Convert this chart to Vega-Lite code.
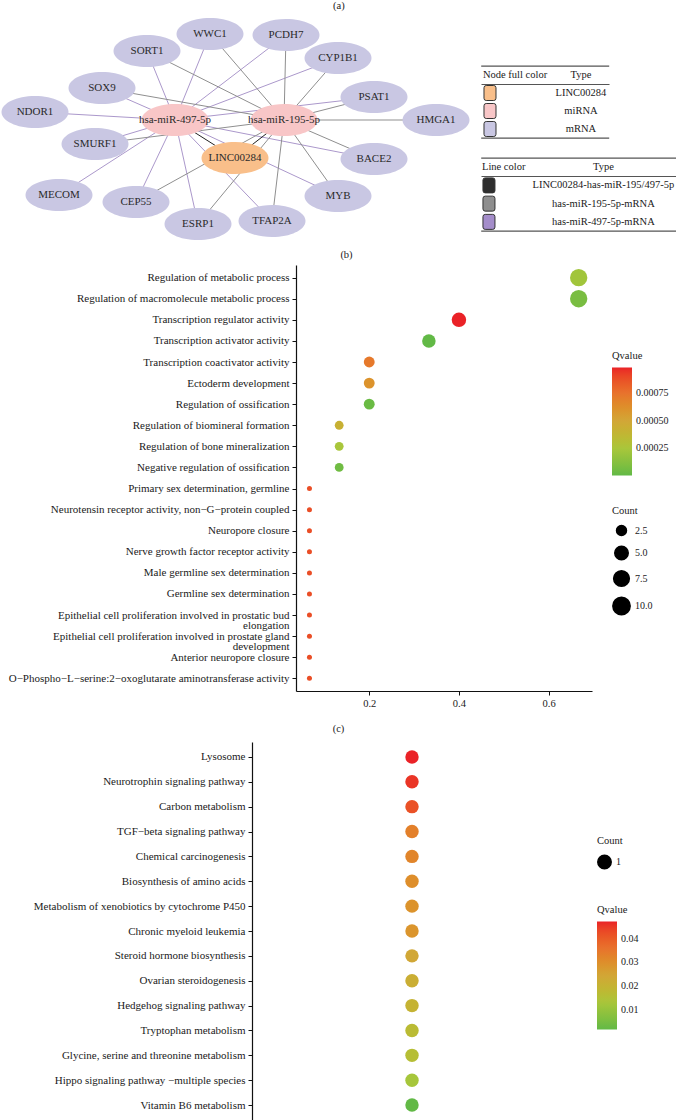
{
  "$schema": "https://vega.github.io/schema/vega-lite/v6.json",
  "background": "white",
  "padding": 0,
  "spacing": 8,
  "config": {
    "font": "Liberation Serif",
    "view": {"stroke": null},
    "title": {"font": "Liberation Serif", "fontSize": 10.5, "fontWeight": "normal", "color": "#222", "anchor": "middle", "frame": "bounds"},
    "axis": {"labelFont": "Liberation Serif", "labelColor": "#1a1a1a", "domainColor": "#111", "tickColor": "#111", "grid": false, "titleFont": "Liberation Serif"},
    "legend": {"labelFont": "Liberation Serif", "titleFont": "Liberation Serif", "titleFontWeight": "normal", "titleColor": "#1a1a1a", "labelColor": "#1a1a1a", "padding": 0},
    "text": {"font": "Liberation Serif"}
  },
  "resolve": {"scale": {"color": "independent", "size": "independent", "fill": "independent", "stroke": "independent"}, "legend": {"color": "independent", "size": "independent"}},
  "datasets": {
    "nodes": [
      {"id": "WWC1", "type": "mRNA", "x": 208, "y": 33},
      {"id": "PCDH7", "type": "mRNA", "x": 284, "y": 34},
      {"id": "SORT1", "type": "mRNA", "x": 145, "y": 50},
      {"id": "CYP1B1", "type": "mRNA", "x": 336, "y": 57},
      {"id": "SOX9", "type": "mRNA", "x": 100, "y": 87},
      {"id": "PSAT1", "type": "mRNA", "x": 372, "y": 96},
      {"id": "NDOR1", "type": "mRNA", "x": 33, "y": 111},
      {"id": "HMGA1", "type": "mRNA", "x": 434, "y": 119},
      {"id": "hsa-miR-497-5p", "type": "miRNA", "x": 173, "y": 119},
      {"id": "hsa-miR-195-5p", "type": "miRNA", "x": 282, "y": 119},
      {"id": "SMURF1", "type": "mRNA", "x": 93, "y": 143},
      {"id": "LINC00284", "type": "LINC00284", "x": 233, "y": 157},
      {"id": "BACE2", "type": "mRNA", "x": 372, "y": 158},
      {"id": "MECOM", "type": "mRNA", "x": 57, "y": 194},
      {"id": "CEP55", "type": "mRNA", "x": 134, "y": 201},
      {"id": "MYB", "type": "mRNA", "x": 336, "y": 195},
      {"id": "ESRP1", "type": "mRNA", "x": 196, "y": 223},
      {"id": "TFAP2A", "type": "mRNA", "x": 270, "y": 220}
    ],
    "edges": [
      {"source": "hsa-miR-497-5p", "target": "WWC1", "type": "has-miR-497-5p-mRNA"},
      {"source": "hsa-miR-497-5p", "target": "PCDH7", "type": "has-miR-497-5p-mRNA"},
      {"source": "hsa-miR-497-5p", "target": "SORT1", "type": "has-miR-497-5p-mRNA"},
      {"source": "hsa-miR-497-5p", "target": "CYP1B1", "type": "has-miR-497-5p-mRNA"},
      {"source": "hsa-miR-497-5p", "target": "SOX9", "type": "has-miR-497-5p-mRNA"},
      {"source": "hsa-miR-497-5p", "target": "PSAT1", "type": "has-miR-497-5p-mRNA"},
      {"source": "hsa-miR-497-5p", "target": "NDOR1", "type": "has-miR-497-5p-mRNA"},
      {"source": "hsa-miR-497-5p", "target": "SMURF1", "type": "has-miR-497-5p-mRNA"},
      {"source": "hsa-miR-497-5p", "target": "BACE2", "type": "has-miR-497-5p-mRNA"},
      {"source": "hsa-miR-497-5p", "target": "MECOM", "type": "has-miR-497-5p-mRNA"},
      {"source": "hsa-miR-497-5p", "target": "CEP55", "type": "has-miR-497-5p-mRNA"},
      {"source": "hsa-miR-497-5p", "target": "ESRP1", "type": "has-miR-497-5p-mRNA"},
      {"source": "hsa-miR-497-5p", "target": "TFAP2A", "type": "has-miR-497-5p-mRNA"},
      {"source": "hsa-miR-497-5p", "target": "MYB", "type": "has-miR-497-5p-mRNA"},
      {"source": "hsa-miR-195-5p", "target": "WWC1", "type": "has-miR-195-5p-mRNA"},
      {"source": "hsa-miR-195-5p", "target": "PCDH7", "type": "has-miR-195-5p-mRNA"},
      {"source": "hsa-miR-195-5p", "target": "SORT1", "type": "has-miR-195-5p-mRNA"},
      {"source": "hsa-miR-195-5p", "target": "CYP1B1", "type": "has-miR-195-5p-mRNA"},
      {"source": "hsa-miR-195-5p", "target": "SOX9", "type": "has-miR-195-5p-mRNA"},
      {"source": "hsa-miR-195-5p", "target": "PSAT1", "type": "has-miR-195-5p-mRNA"},
      {"source": "hsa-miR-195-5p", "target": "HMGA1", "type": "has-miR-195-5p-mRNA"},
      {"source": "hsa-miR-195-5p", "target": "SMURF1", "type": "has-miR-195-5p-mRNA"},
      {"source": "hsa-miR-195-5p", "target": "BACE2", "type": "has-miR-195-5p-mRNA"},
      {"source": "hsa-miR-195-5p", "target": "CEP55", "type": "has-miR-195-5p-mRNA"},
      {"source": "hsa-miR-195-5p", "target": "ESRP1", "type": "has-miR-195-5p-mRNA"},
      {"source": "hsa-miR-195-5p", "target": "TFAP2A", "type": "has-miR-195-5p-mRNA"},
      {"source": "hsa-miR-195-5p", "target": "MYB", "type": "has-miR-195-5p-mRNA"},
      {"source": "LINC00284", "target": "hsa-miR-497-5p", "type": "LINC00284-has-miR-195/497-5p"},
      {"source": "LINC00284", "target": "hsa-miR-195-5p", "type": "LINC00284-has-miR-195/497-5p"}
    ],
    "tbl1": [
      {"row": "hdr", "col": "a", "kind": "hdrL", "text": "Node full color"},
      {"row": "hdr", "col": "b", "kind": "txt", "text": "Type"},
      {"row": "LINC00284", "col": "a", "kind": "sym", "text": ""},
      {"row": "miRNA", "col": "a", "kind": "sym", "text": ""},
      {"row": "mRNA", "col": "a", "kind": "sym", "text": ""},
      {"row": "LINC00284", "col": "b", "kind": "txt", "text": "LINC00284"},
      {"row": "miRNA", "col": "b", "kind": "txt", "text": "miRNA"},
      {"row": "mRNA", "col": "b", "kind": "txt", "text": "mRNA"}
    ],
    "tbl2": [
      {"row": "hdr", "col": "a", "kind": "hdrL", "text": "Line color"},
      {"row": "hdr", "col": "b", "kind": "txt", "text": "Type"},
      {"row": "LINC00284-has-miR-195/497-5p", "col": "a", "kind": "sym", "text": ""},
      {"row": "has-miR-195-5p-mRNA", "col": "a", "kind": "sym", "text": ""},
      {"row": "has-miR-497-5p-mRNA", "col": "a", "kind": "sym", "text": ""},
      {"row": "LINC00284-has-miR-195/497-5p", "col": "b", "kind": "txt", "text": "LINC00284-has-miR-195/497-5p"},
      {"row": "has-miR-195-5p-mRNA", "col": "b", "kind": "txt", "text": "has-miR-195-5p-mRNA"},
      {"row": "has-miR-497-5p-mRNA", "col": "b", "kind": "txt", "text": "has-miR-497-5p-mRNA"}
    ],
    "go": [
      {"term": "Regulation of metabolic process", "ratio": 0.667, "count": 10, "q": 0.00022},
      {"term": "Regulation of macromolecule metabolic process", "ratio": 0.667, "count": 10, "q": 0.00008},
      {"term": "Transcription regulator activity", "ratio": 0.4, "count": 6, "q": 0.00098},
      {"term": "Transcription activator activity", "ratio": 0.333, "count": 5, "q": 0.000005},
      {"term": "Transcription coactivator activity", "ratio": 0.2, "count": 3, "q": 0.00072},
      {"term": "Ectoderm development", "ratio": 0.2, "count": 3, "q": 0.0006},
      {"term": "Regulation of ossification", "ratio": 0.2, "count": 3, "q": 0.00003},
      {"term": "Regulation of biomineral formation", "ratio": 0.133, "count": 2, "q": 0.00042},
      {"term": "Regulation of bone mineralization", "ratio": 0.133, "count": 2, "q": 0.00025},
      {"term": "Negative regulation of ossification", "ratio": 0.133, "count": 2, "q": 0.00005},
      {"term": "Primary sex determination, germline", "ratio": 0.0667, "count": 1, "q": 0.00088},
      {"term": "Neurotensin receptor activity, non−G−protein coupled", "ratio": 0.0667, "count": 1, "q": 0.00088},
      {"term": "Neuropore closure", "ratio": 0.0667, "count": 1, "q": 0.00088},
      {"term": "Nerve growth factor receptor activity", "ratio": 0.0667, "count": 1, "q": 0.00088},
      {"term": "Male germline sex determination", "ratio": 0.0667, "count": 1, "q": 0.00088},
      {"term": "Germline sex determination", "ratio": 0.0667, "count": 1, "q": 0.00088},
      {"term": "Epithelial cell proliferation involved in prostatic bud elongation", "ratio": 0.0667, "count": 1, "q": 0.00088},
      {"term": "Epithelial cell proliferation involved in prostate gland development", "ratio": 0.0667, "count": 1, "q": 0.00088},
      {"term": "Anterior neuropore closure", "ratio": 0.0667, "count": 1, "q": 0.00088},
      {"term": "O−Phospho−L−serine:2−oxoglutarate aminotransferase activity", "ratio": 0.0667, "count": 1, "q": 0.00088}
    ],
    "kegg": [
      {"term": "Lysosome", "ratio": 0.125, "count": 1, "q": 0.0472},
      {"term": "Neurotrophin signaling pathway", "ratio": 0.125, "count": 1, "q": 0.0455},
      {"term": "Carbon metabolism", "ratio": 0.125, "count": 1, "q": 0.0418},
      {"term": "TGF−beta signaling pathway", "ratio": 0.125, "count": 1, "q": 0.033},
      {"term": "Chemical carcinogenesis", "ratio": 0.125, "count": 1, "q": 0.032},
      {"term": "Biosynthesis of amino acids", "ratio": 0.125, "count": 1, "q": 0.03},
      {"term": "Metabolism of xenobiotics by cytochrome P450", "ratio": 0.125, "count": 1, "q": 0.029},
      {"term": "Chronic myeloid leukemia", "ratio": 0.125, "count": 1, "q": 0.0285},
      {"term": "Steroid hormone biosynthesis", "ratio": 0.125, "count": 1, "q": 0.024},
      {"term": "Ovarian steroidogenesis", "ratio": 0.125, "count": 1, "q": 0.0215},
      {"term": "Hedgehog signaling pathway", "ratio": 0.125, "count": 1, "q": 0.02},
      {"term": "Tryptophan metabolism", "ratio": 0.125, "count": 1, "q": 0.017},
      {"term": "Glycine, serine and threonine metabolism", "ratio": 0.125, "count": 1, "q": 0.016},
      {"term": "Hippo signaling pathway −multiple species", "ratio": 0.125, "count": 1, "q": 0.0125},
      {"term": "Vitamin B6 metabolism", "ratio": 0.125, "count": 1, "q": 0.0016}
    ]
  },
  "vconcat": [
    {
      "title": {"text": "(a)", "offset": 2},
      "spacing": 0,
      "resolve": {"scale": {"fill": "independent", "stroke": "independent"}},
      "hconcat": [
        {"width": 1, "height": 1, "data": {"values": []}, "mark": "point", "encoding": {}},
        {
          "width": 478,
          "height": 228,
          "layer": [
            {
              "data": {"name": "edges"},
              "transform": [
                {"lookup": "source", "from": {"data": {"name": "nodes"}, "key": "id", "fields": ["x", "y"]}, "as": ["sx", "sy"]},
                {"lookup": "target", "from": {"data": {"name": "nodes"}, "key": "id", "fields": ["x", "y"]}, "as": ["tx", "ty"]}
              ],
              "mark": {"type": "rule", "strokeWidth": 1},
              "encoding": {
                "x": {"field": "sx", "type": "quantitative", "scale": {"domain": [0, 478], "nice": false, "zero": false}, "axis": null},
                "y": {"field": "sy", "type": "quantitative", "scale": {"domain": [12, 240], "nice": false, "zero": false, "reverse": true}, "axis": null},
                "x2": {"field": "tx"},
                "y2": {"field": "ty"},
                "stroke": {"field": "type", "type": "nominal", "scale": {"domain": ["LINC00284-has-miR-195/497-5p", "has-miR-195-5p-mRNA", "has-miR-497-5p-mRNA"], "range": ["#222222", "#8f8f8f", "#ab98cb"]}, "legend": null}
              }
            },
            {
              "data": {"name": "nodes"},
              "mark": {"type": "point", "shape": "M-1,0A1,0.48,0,1,1,1,0A1,0.48,0,1,1,-1,0Z", "size": 4489, "filled": true, "opacity": 1, "strokeWidth": 0},
              "encoding": {
                "x": {"field": "x", "type": "quantitative", "scale": {"domain": [0, 478], "nice": false, "zero": false}, "axis": null},
                "y": {"field": "y", "type": "quantitative", "scale": {"domain": [12, 240], "nice": false, "zero": false, "reverse": true}, "axis": null},
                "fill": {"field": "type", "type": "nominal", "scale": {"domain": ["LINC00284", "miRNA", "mRNA"], "range": ["#f9bf8a", "#f8c6c7", "#c9c7e3"]}, "legend": null}
              }
            },
            {
              "data": {"name": "nodes"},
              "mark": {"type": "text", "fontSize": 11, "color": "#2a2a2a", "font": "Liberation Serif"},
              "encoding": {
                "x": {"field": "x", "type": "quantitative", "scale": {"domain": [0, 478], "nice": false, "zero": false}, "axis": null},
                "y": {"field": "y", "type": "quantitative", "scale": {"domain": [12, 240], "nice": false, "zero": false, "reverse": true}, "axis": null},
                "text": {"field": "id"}
              }
            }
          ]
        },
        {
          "spacing": 17,
          "resolve": {"scale": {"fill": "independent"}},
          "vconcat": [
            {"width": 1, "height": 35, "data": {"values": []}, "mark": "point", "encoding": {}},
            {
              "width": 128,
              "height": 72,
              "view": {"stroke": "#555555", "strokeWidth": 1.3, "strokeDash": [128, 72, 128, 72]},
              "data": {"name": "tbl1"},
              "encoding": {
                "y": {"field": "row", "type": "nominal", "scale": {"type": "band", "domain": ["hdr", "LINC00284", "miRNA", "mRNA"], "paddingInner": 0, "paddingOuter": 0}, "axis": {"values": ["hdr"], "bandPosition": 1, "grid": true, "gridColor": "#555555", "gridWidth": 1.2, "labels": false, "ticks": false, "domain": false, "title": null, "minExtent": 0}},
                "x": {"field": "col", "type": "nominal", "scale": {"type": "point", "domain": ["a", "b"], "padding": 0.2033, "align": 0.243}, "axis": null}
              },
              "layer": [
                {
                  "transform": [{"filter": "datum.kind == 'sym'"}],
                  "mark": {"type": "point", "shape": "M-0.5,-1H0.5Q0.8,-1,0.8,-0.7V0.7Q0.8,1,0.5,1H-0.5Q-0.8,1,-0.8,0.7V-0.7Q-0.8,-1,-0.5,-1Z", "size": 225, "filled": true, "opacity": 1, "stroke": "#333333", "strokeWidth": 1},
                  "encoding": {"fill": {"field": "row", "type": "nominal", "scale": {"domain": ["LINC00284", "miRNA", "mRNA"], "range": ["#f9bf8a", "#f8c6c7", "#c9c7e3"]}, "legend": null}}
                },
                {
                  "transform": [{"filter": "datum.kind == 'hdrL'"}],
                  "mark": {"type": "text", "align": "left", "dx": -7, "fontSize": 10.5, "color": "#1a1a1a"},
                  "encoding": {"text": {"field": "text"}}
                },
                {
                  "transform": [{"filter": "datum.kind == 'txt'"}],
                  "mark": {"type": "text", "align": "center", "fontSize": 10.5, "color": "#1a1a1a"},
                  "encoding": {"text": {"field": "text"}}
                }
              ]
            },
            {
              "width": 196,
              "height": 73,
              "view": {"stroke": "#555555", "strokeWidth": 1.3, "strokeDash": [196, 73, 196, 73]},
              "data": {"name": "tbl2"},
              "encoding": {
                "y": {"field": "row", "type": "nominal", "scale": {"type": "band", "domain": ["hdr", "LINC00284-has-miR-195/497-5p", "has-miR-195-5p-mRNA", "has-miR-497-5p-mRNA"], "paddingInner": 0, "paddingOuter": 0}, "axis": {"values": ["hdr"], "bandPosition": 1, "grid": true, "gridColor": "#555555", "gridWidth": 1.2, "labels": false, "ticks": false, "domain": false, "title": null, "minExtent": 0}},
                "x": {"field": "col", "type": "nominal", "scale": {"type": "point", "domain": ["a", "b"], "padding": 0.3565, "align": 0.0976}, "axis": null}
              },
              "layer": [
                {
                  "transform": [{"filter": "datum.kind == 'sym'"}],
                  "mark": {"type": "point", "shape": "M-0.5,-1H0.5Q0.8,-1,0.8,-0.7V0.7Q0.8,1,0.5,1H-0.5Q-0.8,1,-0.8,0.7V-0.7Q-0.8,-1,-0.5,-1Z", "size": 225, "filled": true, "opacity": 1, "stroke": "#333333", "strokeWidth": 1},
                  "encoding": {"fill": {"field": "row", "type": "nominal", "scale": {"domain": ["LINC00284-has-miR-195/497-5p", "has-miR-195-5p-mRNA", "has-miR-497-5p-mRNA"], "range": ["#2e2e2e", "#8e8e8e", "#a48dca"]}, "legend": null}}
                },
                {
                  "transform": [{"filter": "datum.kind == 'hdrL'"}],
                  "mark": {"type": "text", "align": "left", "dx": -7, "fontSize": 10.5, "color": "#1a1a1a"},
                  "encoding": {"text": {"field": "text"}}
                },
                {
                  "transform": [{"filter": "datum.kind == 'txt'"}],
                  "mark": {"type": "text", "align": "center", "fontSize": 10.5, "color": "#1a1a1a"},
                  "encoding": {"text": {"field": "text"}}
                }
              ]
            }
          ]
        }
      ]
    },
    {
      "title": {"text": "(b)", "offset": 5, "dx": 12},
      "spacing": 0,
      "resolve": {"scale": {"color": "independent", "size": "independent"}},
      "hconcat": [
        {"width": 1, "height": 1, "data": {"values": []}, "mark": "point", "encoding": {}},
        {
          "width": 296,
          "height": 426,
          "data": {"name": "go"},
          "mark": {"type": "point", "shape": "circle", "filled": true, "opacity": 1},
          "encoding": {
            "y": {"field": "term", "type": "nominal", "sort": null, "scale": {"type": "point", "padding": 0.6},
              "axis": {"title": null, "labelLimit": 400, "minExtent": 295, "tickSize": 4, "labelPadding": 3, "labelFontSize": 11, "domainWidth": 1.2, "labelLineHeight": 10.5,
                "labelExpr": "datum.value == 'Epithelial cell proliferation involved in prostatic bud elongation' ? ['Epithelial cell proliferation involved in prostatic bud', 'elongation'] : datum.value == 'Epithelial cell proliferation involved in prostate gland development' ? ['Epithelial cell proliferation involved in prostate gland', 'development'] : datum.label"}},
            "x": {"field": "ratio", "type": "quantitative", "scale": {"domain": [0.0367, 0.6967], "nice": false, "zero": false},
              "axis": {"title": null, "values": [0.2, 0.4, 0.6], "format": ".1f", "tickSize": 4, "labelPadding": 3, "labelFontSize": 10.5, "domainWidth": 1.2, "minExtent": 24}},
            "size": {"field": "count", "type": "quantitative", "title": "Count", "scale": {"type": "sqrt", "domain": [1, 10], "range": [25, 300]},
              "legend": {"orient": "none", "legendX": 316, "legendY": 241, "values": [2.5, 5, 7.5, 10], "format": ".1f", "symbolFillColor": "black", "symbolStrokeColor": "black", "symbolOpacity": 1, "rowPadding": 4, "titlePadding": 8, "titleFontSize": 10.5, "labelFontSize": 10}},
            "color": {"field": "q", "type": "quantitative", "title": "Qvalue",
              "scale": {"domain": [0.000005, 0.00025, 0.0005, 0.00075, 0.00098], "range": ["#62b946", "#a9c63b", "#d2a637", "#e8722d", "#ea2227"]},
              "legend": {"orient": "none", "legendX": 316, "legendY": 86, "direction": "vertical", "gradientLength": 108, "gradientThickness": 20, "values": [0.00025, 0.0005, 0.00075], "format": ".5f", "titleFontSize": 10.5, "labelFontSize": 10, "titlePadding": 6, "gradientStrokeWidth": 0, "labelOffset": 4}}
          }
        }
      ]
    },
    {
      "title": {"text": "(c)", "offset": 8, "dx": 19},
      "spacing": 0,
      "resolve": {"scale": {"color": "independent", "size": "independent"}},
      "hconcat": [
        {"width": 1, "height": 1, "data": {"values": []}, "mark": "point", "encoding": {}},
        {
          "width": 320,
          "height": 378,
          "data": {"name": "kegg"},
          "mark": {"type": "point", "shape": "circle", "filled": true, "opacity": 1},
          "encoding": {
            "y": {"field": "term", "type": "nominal", "sort": null, "scale": {"type": "point", "padding": 0.6},
              "axis": {"title": null, "labelLimit": 400, "minExtent": 251, "tickSize": 4, "labelPadding": 3, "labelFontSize": 11, "domainWidth": 1.2}},
            "x": {"field": "ratio", "type": "quantitative", "scale": {"domain": [0, 0.25], "nice": false, "zero": false}, "axis": null},
            "size": {"field": "count", "type": "quantitative", "title": "Count", "scale": {"range": [180, 180]},
              "legend": {"orient": "none", "legendX": 345, "legendY": 94, "values": [1], "format": ".0f", "symbolFillColor": "black", "symbolStrokeColor": "black", "symbolOpacity": 1, "titlePadding": 8, "titleFontSize": 10.5, "labelFontSize": 10}},
            "color": {"field": "q", "type": "quantitative", "title": "Qvalue",
              "scale": {"domain": [0.0016, 0.013, 0.0244, 0.0358, 0.0472], "range": ["#62b946", "#a9c63b", "#d2a637", "#e8722d", "#ea2227"]},
              "legend": {"orient": "none", "legendX": 345, "legendY": 163, "direction": "vertical", "gradientLength": 108, "gradientThickness": 20, "values": [0.01, 0.02, 0.03, 0.04], "format": ".2f", "titleFontSize": 10.5, "labelFontSize": 10, "titlePadding": 6, "gradientStrokeWidth": 0, "labelOffset": 4}}
          }
        }
      ]
    }
  ]
}
